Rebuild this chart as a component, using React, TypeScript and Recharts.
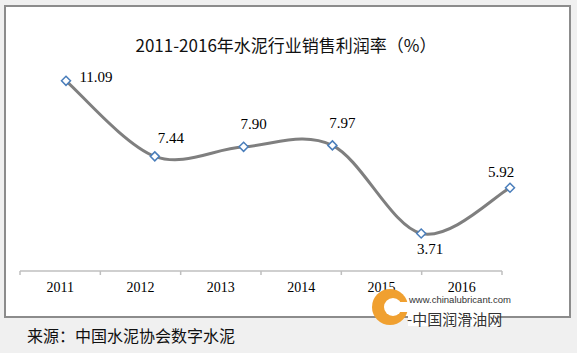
import React from 'react';
import { LineChart, Line, XAxis, YAxis, LabelList } from 'recharts';

// ---- data ----
const years = ['2011', '2012', '2013', '2014', '2015', '2016'];
const profitMargins = [11.09, 7.44, 7.9, 7.97, 3.71, 5.92];
const chartTitle = '2011-2016年水泥行业销售利润率（%）';
const sourceNote = '来源：中国水泥协会数字水泥';

// label placement tweaks (style only)
const labelDx = [30, 16, 10, 10, 9, -9];
const labelDy = [-4, -18, -23, -22, 15, -16];

const data = years.map((year, i) => ({ year, idx: i, value: profitMargins[i] }));

const W = 577;
const H = 353;

// Excel-like smoothed curve (Catmull-Rom)
const smoothCurve: any = (ctx: any) => {
  let pts: [number, number][] = [];
  return {
    areaStart() {},
    areaEnd() {},
    lineStart() {
      pts = [];
    },
    point(x: number, y: number) {
      pts.push([+x, +y]);
    },
    lineEnd() {
      const n = pts.length;
      if (!n) return;
      ctx.moveTo(pts[0][0], pts[0][1]);
      for (let i = 0; i < n - 1; i++) {
        const p0 = pts[Math.max(i - 1, 0)];
        const p1 = pts[i];
        const p2 = pts[i + 1];
        const p3 = pts[Math.min(i + 2, n - 1)];
        ctx.bezierCurveTo(
          p1[0] + (p2[0] - p0[0]) / 6,
          p1[1] + (p2[1] - p0[1]) / 6,
          p2[0] - (p3[0] - p1[0]) / 6,
          p2[1] - (p3[1] - p1[1]) / 6,
          p2[0],
          p2[1]
        );
      }
    },
  };
};

const Diamond = (props: any) => {
  const { cx, cy, index } = props;
  if (cx == null || cy == null) return null;
  const r = 4.5;
  return (
    <path
      key={`d-${index}`}
      d={`M${cx},${cy - r}L${cx + r},${cy}L${cx},${cy + r}L${cx - r},${cy}Z`}
      fill="#ffffff"
      stroke="#4a7ebb"
      strokeWidth={1.5}
    />
  );
};

const ValueLabel = (props: any) => {
  const { x, y, value, index } = props;
  return (
    <text
      x={x + labelDx[index]}
      y={y + labelDy[index]}
      textAnchor="middle"
      dominantBaseline="central"
      fontFamily="'Liberation Serif', 'Times New Roman', serif"
      fontSize={15}
      fill="#000"
    >
      {Number(value).toFixed(2)}
    </text>
  );
};

const XTick = (props: any) => {
  const { x, y, payload } = props;
  const half = payload && payload.offset ? payload.offset : 482 / 12;
  const last = payload && payload.index === years.length - 1;
  return (
    <g>
      <line x1={x - half} x2={x - half} y1={y} y2={y + 4} stroke="#bfbfbf" strokeWidth={1.5} />
      {last && <line x1={x + half} x2={x + half} y1={y} y2={y + 4} stroke="#bfbfbf" strokeWidth={1.5} />}
      <text
        x={x}
        y={y + 21}
        textAnchor="middle"
        fontFamily="'Liberation Serif', 'Times New Roman', serif"
        fontSize={14}
        fill="#000"
      >
        {payload.value}
      </text>
    </g>
  );
};

export default function App() {
  return (
    <div style={{ position: 'absolute', left: 0, top: 0, width: W, height: H, background: '#f0f0f0', overflow: 'hidden' }}>
      <svg width={W} height={H} style={{ position: 'absolute', left: 0, top: 0 }}>
        <rect x={5} y={6} width={565} height={311} fill="#ffffff" stroke="#8c8c8c" strokeWidth={2} />
      </svg>
      <div style={{ position: 'absolute', left: 0, top: 0 }}>
        <LineChart width={W} height={H} data={data} margin={{ top: 62, right: 75, bottom: 52, left: 20 }}>
          <XAxis
            xAxisId="labels"
            dataKey="year"
            type="category"
            scale="band"
            height={30}
            tickSize={0}
            tickMargin={0}
            tickLine={false}
            axisLine={{ stroke: '#bfbfbf', strokeWidth: 1.5 }}
            tick={<XTick />}
            interval={0}
          />
          <XAxis xAxisId="pts" dataKey="idx" type="number" domain={[0, 5]} padding={{ left: 46, right: -8 }} hide />
          <YAxis yAxisId="v" type="number" domain={[1.9, 12]} hide />
          <Line
            xAxisId="pts"
            yAxisId="v"
            dataKey="value"
            type={smoothCurve}
            stroke="#7f7f7f"
            strokeWidth={3}
            dot={<Diamond />}
            activeDot={false}
            isAnimationActive={false}
          >
            <LabelList dataKey="value" content={<ValueLabel />} />
          </Line>
        </LineChart>
      </div>
      <svg width={W} height={H} style={{ position: 'absolute', left: 0, top: 0, pointerEvents: 'none' }}>
        <text
          x={286}
          y={44}
          textAnchor="middle"
          dominantBaseline="central"
          fontFamily="'Noto Sans CJK SC', sans-serif"
          fontSize={17}
          fill="#111"
        >
          {chartTitle}
        </text>
        <text
          x={27}
          y={335}
          dominantBaseline="central"
          fontFamily="'Noto Sans CJK SC', sans-serif"
          fontSize={16}
          fill="#111"
        >
          {sourceNote}
        </text>
        {/* watermark */}
        <g>
          <circle cx={390} cy={307} r={18} fill="#f0a030" />
          <circle cx={393} cy={307} r={9} fill="#ffffff" />
          <rect x={396} y={302} width={14} height={10} fill="#ffffff" />
          <text x={409} y={303} fontFamily="'Liberation Sans', Arial, sans-serif" fontSize={9.5} fill="#333">
            www.chinalubricant.com
          </text>
          <rect x={408} y={309} width={90} height={17} fill="#ffffff" />
          <text x={407} y={318} dominantBaseline="central" fontFamily="'Noto Sans CJK SC', sans-serif" fontSize={15} fill="#333">
            -中国润滑油网
          </text>
        </g>
      </svg>
    </div>
  );
}
